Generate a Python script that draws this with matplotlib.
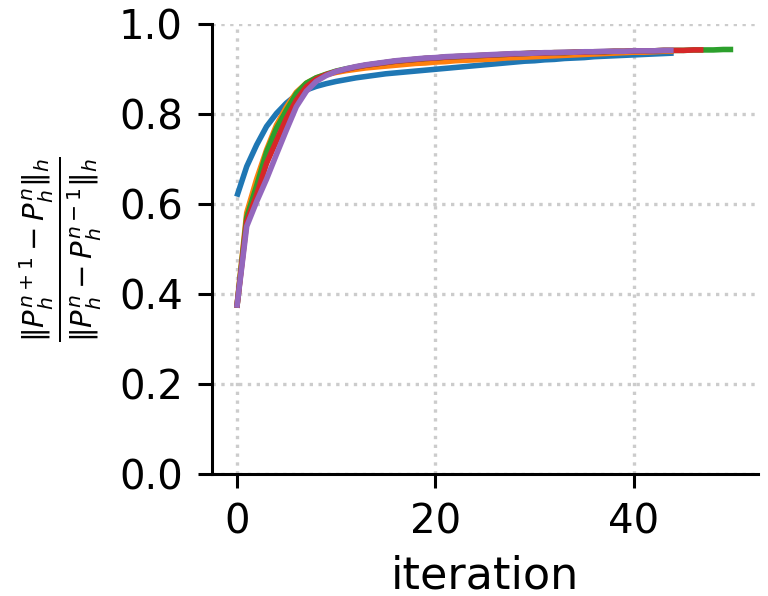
import numpy as np
import matplotlib
matplotlib.use("Agg")
import matplotlib.pyplot as plt

# convergence ratio per iteration
blue = [0.616, 0.683, 0.731, 0.772, 0.801, 0.824, 0.842, 0.853, 0.861, 0.867,
        0.872, 0.876, 0.880, 0.883, 0.886, 0.889, 0.891, 0.893, 0.895, 0.897,
        0.899, 0.901, 0.903, 0.905, 0.907, 0.909, 0.911, 0.913, 0.915, 0.917,
        0.918, 0.920, 0.921, 0.923, 0.924, 0.925, 0.927, 0.928, 0.929, 0.930,
        0.931, 0.932, 0.933, 0.934, 0.935]
orange = [0.369, 0.580, 0.655, 0.720, 0.775, 0.815, 0.848, 0.868, 0.880, 0.887,
          0.892, 0.896, 0.899, 0.902, 0.904, 0.906, 0.908, 0.910, 0.912, 0.913,
          0.915, 0.916, 0.918, 0.919, 0.920, 0.921, 0.922, 0.924, 0.925, 0.926,
          0.927, 0.928, 0.929, 0.930, 0.931, 0.932, 0.933, 0.934, 0.935, 0.936,
          0.937, 0.937, 0.938, 0.939, 0.939]
green = [0.369, 0.570, 0.640, 0.715, 0.768, 0.808, 0.845, 0.868, 0.880, 0.888,
         0.895, 0.900, 0.904, 0.908, 0.911, 0.914, 0.917, 0.919, 0.921, 0.923,
         0.924, 0.926, 0.927, 0.928, 0.929, 0.930, 0.931, 0.932, 0.933, 0.934,
         0.935, 0.935, 0.936, 0.936, 0.937, 0.937, 0.938, 0.938, 0.939, 0.939,
         0.940, 0.940, 0.940, 0.941, 0.941, 0.941, 0.942, 0.942, 0.942, 0.943,
         0.943]
red = [0.369, 0.560, 0.620, 0.690, 0.740, 0.790, 0.830, 0.860, 0.877, 0.887,
       0.894, 0.899, 0.904, 0.908, 0.911, 0.914, 0.917, 0.919, 0.921, 0.923,
       0.924, 0.926, 0.927, 0.928, 0.929, 0.930, 0.931, 0.932, 0.933, 0.934,
       0.935, 0.935, 0.936, 0.936, 0.937, 0.937, 0.938, 0.938, 0.939, 0.939,
       0.940, 0.940, 0.940, 0.941, 0.941, 0.941, 0.942, 0.942]
purple = [0.369, 0.550, 0.605, 0.655, 0.710, 0.764, 0.816, 0.850, 0.872, 0.885,
          0.894, 0.900, 0.905, 0.909, 0.912, 0.915, 0.918, 0.920, 0.922, 0.924,
          0.925, 0.927, 0.928, 0.929, 0.930, 0.931, 0.932, 0.933, 0.934, 0.934,
          0.935, 0.936, 0.936, 0.937, 0.937, 0.938, 0.938, 0.939, 0.939, 0.939,
          0.940, 0.940, 0.940, 0.941, 0.941]
SERIES = [(blue, "tab:blue"), (orange, "tab:orange"), (green, "tab:green"),
          (red, "tab:red"), (purple, "tab:purple")]

fig = plt.figure(figsize=(7.68, 5.96), dpi=100)
ax = fig.add_axes([0.276, 0.205, 0.711, 0.755])
for vals, c in SERIES:
    ax.plot(np.arange(len(vals)), vals, color=c, lw=4, solid_capstyle="butt")

ax.set_ylim(0, 1)
ax.set_xlim(-2.5, 52.5)
ax.set_xticks([0, 20, 40])
ax.set_yticks([0, 0.2, 0.4, 0.6, 0.8, 1.0])
ax.grid(True, ls=":", lw=2.4, color="#cccccc")
ax.set_axisbelow(True)
for s in ("top", "right"):
    ax.spines[s].set_visible(False)
for s in ("left", "bottom"):
    ax.spines[s].set_linewidth(2.2)
ax.tick_params(labelsize=29, length=10, width=2.2, pad=11)
ax.set_xlabel("iteration", fontsize=32, labelpad=8)
ax.set_ylabel(r"$\frac{\|P_h^{n+1} - P_h^n\|_h}{\|P_h^n - P_h^{n-1}\|_h}$",
              fontsize=30, labelpad=11)
fig.savefig("out.png", dpi=100)
